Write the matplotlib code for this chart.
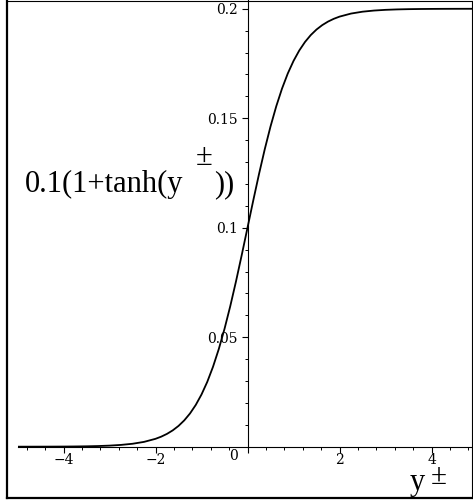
import matplotlib
matplotlib.use("Agg")
import matplotlib.pyplot as plt
from matplotlib.lines import Line2D
from matplotlib.ticker import MultipleLocator

# sampled values of 0.1(1+tanh(y)) over -5..5
y_pm = [-5.0, -4.75, -4.5, -4.25, -4.0, -3.75, -3.5, -3.25, -3.0, -2.75, -2.5, -2.25,
        -2.0, -1.875, -1.75, -1.625, -1.5, -1.375, -1.25, -1.125, -1.0, -0.875,
        -0.75, -0.625, -0.5, -0.375, -0.25, -0.125, 0.0, 0.125, 0.25, 0.375, 0.5,
        0.625, 0.75, 0.875, 1.0, 1.125, 1.25, 1.375, 1.5, 1.625, 1.75, 1.875, 2.0,
        2.25, 2.5, 2.75, 3.0, 3.25, 3.5, 3.75, 4.0, 4.25, 4.5, 4.75, 5.0]
f_vals = [0.000009, 0.000015, 0.000025, 0.000041, 0.000067, 0.000111, 0.000182,
          0.000300, 0.000495, 0.000818, 0.001339, 0.002197,
          0.003597, 0.004595, 0.005862, 0.007465, 0.009485, 0.012017, 0.015172,
          0.019070, 0.023841, 0.029592,
          0.036485, 0.044540, 0.053788, 0.064164, 0.075508, 0.087565, 0.1,
          0.112435, 0.124492, 0.135836, 0.146212,
          0.155460, 0.163515, 0.170408, 0.176159, 0.180930, 0.184828, 0.187983,
          0.190515, 0.192535, 0.194138, 0.195405, 0.196403,
          0.197803, 0.198661, 0.199182, 0.199505, 0.199700, 0.199818, 0.199889,
          0.199933, 0.199959, 0.199975, 0.199985, 0.199991]

x_ticks = [-4, -2, 0, 2, 4]
x_labels = ["\u22124", "\u22122", "", "2", "4"]
y_ticks = [0.05, 0.1, 0.15, 0.2]
y_labels = ["0.05", "0.1", "0.15", "0.2"]

W, H = 473, 501

fig = plt.figure(figsize=(W / 100, H / 100), dpi=100)
ax = fig.add_axes([17.5 / W, 54.3 / H, 460 / W, 446.7 / H])

ax.plot(y_pm, f_vals, color="black", lw=1.3)
ax.set_xlim(-5, 5)
ax.set_ylim(0, 0.204)

# axes crossing at the origin
for side in ["top", "right"]:
    ax.spines[side].set_visible(False)
ax.spines["left"].set_position(("data", 0))
ax.spines["bottom"].set_position(("data", 0))
for side in ["left", "bottom"]:
    ax.spines[side].set_linewidth(0.8)

ax.set_xticks(x_ticks)
ax.set_xticklabels(x_labels)
ax.set_yticks(y_ticks)
ax.set_yticklabels(y_labels)
ax.xaxis.set_minor_locator(MultipleLocator(0.4))
ax.yaxis.set_minor_locator(MultipleLocator(0.01))

ax.tick_params(which="major", direction="out", length=4, width=0.8,
               labelsize=10, pad=0.5)
ax.tick_params(which="minor", direction="out", length=2, width=0.7)
ax.tick_params(axis="y", which="major", pad=3)
for lbl in ax.get_xticklabels() + ax.get_yticklabels():
    lbl.set_family("DejaVu Serif")

ax.annotate("0", xy=(0, 0), xytext=(-10, -1.5), textcoords="offset points",
            ha="center", va="top", fontsize=10, family="DejaVu Serif")


def px_text(x, y_top, s, size):
    # place text by pixel position measured from the top-left corner
    fig.text(x / W, (H - y_top) / H, s, fontsize=size,
             family="Liberation Serif", va="baseline", ha="left")


# vertical label with raised plus-minus sign
px_text(25, 192, "0.1(1+tanh(y", 22)
px_text(196, 165, "\u00b1", 22)
px_text(214, 192, "))", 22)

# horizontal label
px_text(410, 490, "y", 22)
px_text(431, 484, "\u00b1", 21)

# frame around the whole picture
left, right, bottom, top = 7 / W, 472 / W, 3 / H, 0.999
fig.add_artist(Line2D([left, left], [bottom, top], transform=fig.transFigure,
                      color="black", lw=1.6))
fig.add_artist(Line2D([left, right], [bottom, bottom], transform=fig.transFigure,
                      color="black", lw=1.6))
fig.add_artist(Line2D([left, right], [top, top], transform=fig.transFigure,
                      color="black", lw=0.8))
fig.add_artist(Line2D([right, right], [bottom, top], transform=fig.transFigure,
                      color="black", lw=0.8))

fig.savefig("out.png", dpi=100)
